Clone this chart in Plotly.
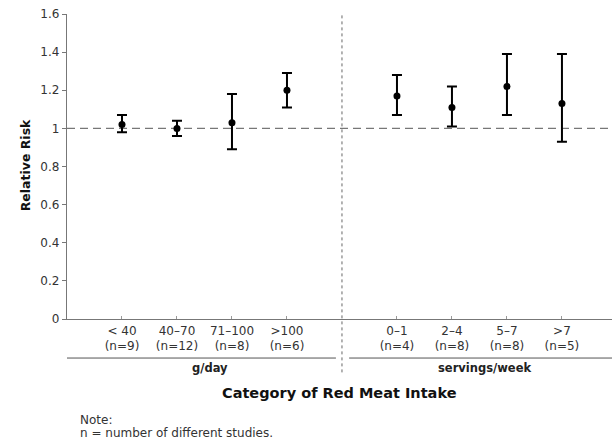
import plotly.graph_objects as go

categories = ["< 40", "40\u201370", "71\u2013100", ">100", "0\u20131", "2\u20134", "5\u20137", ">7"]
n_studies = [9, 12, 8, 6, 4, 8, 8, 5]
groups = ["g/day", "g/day", "g/day", "g/day", "servings/week", "servings/week", "servings/week", "servings/week"]
rr = [1.02, 1.00, 1.03, 1.20, 1.17, 1.11, 1.22, 1.13]
ci_low = [0.98, 0.96, 0.89, 1.11, 1.07, 1.01, 1.07, 0.93]
ci_high = [1.07, 1.04, 1.18, 1.29, 1.28, 1.22, 1.39, 1.39]
y_ticks = [0, 0.2, 0.4, 0.6, 0.8, 1, 1.2, 1.4, 1.6]
note_lines = ["Note:", "n = number of different studies."]

# positions: one empty slot between the two groups
xpos = []
for i, g in enumerate(groups):
    xpos.append(i + 1 if g == "g/day" else i + 2)
divider = 5

font = "DejaVu Sans, Verdana, sans-serif"

fig = go.Figure()
fig.add_trace(go.Scatter(
    x=xpos, y=rr, mode="markers",
    marker=dict(color="black", size=7),
    error_y=dict(type="data", symmetric=False,
                 array=[h - r for h, r in zip(ci_high, rr)],
                 arrayminus=[r - l for r, l in zip(rr, ci_low)],
                 color="black", thickness=2, width=5),
    showlegend=False, hoverinfo="skip"))

shapes = []
# reference line at RR = 1
shapes.append(dict(type="line", xref="paper", x0=0, x1=1, yref="y", y0=1, y1=1,
                   line=dict(color="#777", width=1.3, dash="8px,5px"), layer="below"))
# vertical dotted divider
shapes.append(dict(type="line", xref="x", x0=divider, x1=divider, yref="paper", y0=-0.175, y1=1.0,
                   line=dict(color="#666", width=1, dash="dot")))
# group underlines
gx = {}
for g, x in zip(groups, xpos):
    gx.setdefault(g, []).append(x)
g_names = list(gx.keys())
shapes.append(dict(type="line", xref="x", x0=0, x1=divider - 0.11, yref="paper", y0=-0.128, y1=-0.128,
                   line=dict(color="#555", width=1)))
shapes.append(dict(type="line", xref="x", x0=divider + 0.13, x1=9.91, yref="paper", y0=-0.128, y1=-0.128,
                   line=dict(color="#555", width=1)))

annotations = []
for g in g_names:
    xs = gx[g]
    annotations.append(dict(x=(min(xs) + max(xs)) / 2 + 0.1, xref="x", y=-0.161, yref="paper",
                            text="<b>" + g + "</b>", showarrow=False, yanchor="middle",
                            font=dict(family=font, size=11.5, color="#222")))
annotations.append(dict(x=0.5, xref="paper", y=-0.243, yref="paper",
                        text="<b>Category of Red Meat Intake</b>", showarrow=False, yanchor="middle",
                        font=dict(family=font, size=14.5, color="#111")))
for line, yy in zip(note_lines, [-0.332, -0.374]):
    annotations.append(dict(x=0.02, xref="paper", y=yy, yref="paper", xanchor="left", yanchor="middle",
                            text=line, showarrow=False,
                            font=dict(family=font, size=12, color="#333")))
annotations.append(dict(x=-0.092, xref="paper", y=0.505, yref="paper", textangle=-90,
                        text="<b>Relative Risk</b>", showarrow=False,
                        font=dict(family=font, size=12.5, color="#111")))

fig.update_layout(
    width=612, height=443,
    margin=dict(l=67, r=0, t=14, b=124),
    paper_bgcolor="white", plot_bgcolor="white",
    font=dict(family=font, size=11, color="#333"),
    shapes=shapes, annotations=annotations,
    xaxis=dict(range=[0, 9.91], tickvals=xpos,
               ticktext=[f"{c}<br>(n={n})" for c, n in zip(categories, n_studies)],
               showgrid=False, zeroline=False, showline=True, linecolor="#777", linewidth=1.3,
               ticks="inside", ticklen=3, tickcolor="#999",
               tickfont=dict(family=font, size=12, color="#333")),
    yaxis=dict(range=[0, 1.6], tickvals=y_ticks, ticktext=[f"{v:g}" for v in y_ticks],
               showgrid=False, zeroline=False, showline=True, linecolor="#777", linewidth=1.3,
               ticks="outside", ticklen=4, tickcolor="#777",
               tickfont=dict(family=font, size=12, color="#333")),
)

fig.write_html("out.html", config={"displayModeBar": False},
               post_script="document.body.style.margin='0';")
